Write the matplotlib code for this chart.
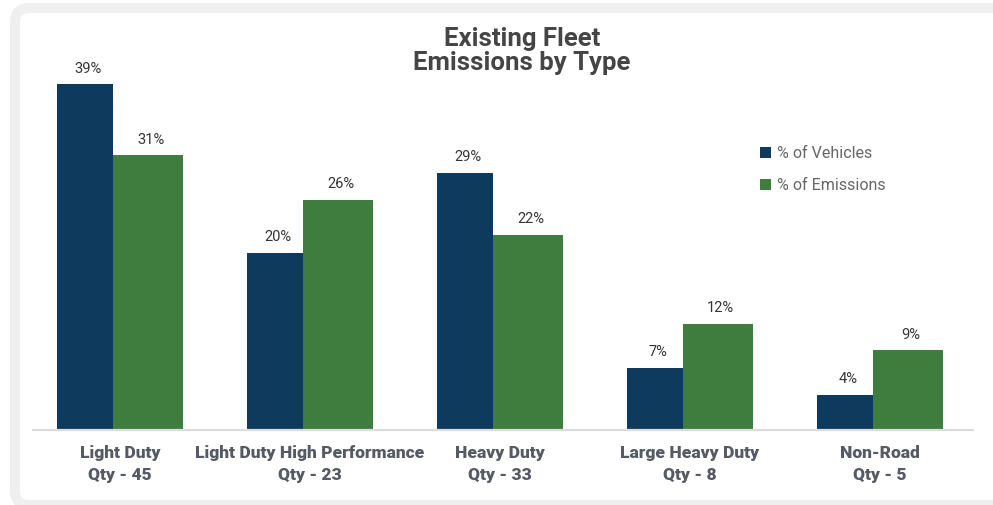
import numpy as np
import matplotlib.pyplot as plt
from matplotlib.patches import FancyBboxPatch, Rectangle
from matplotlib.transforms import IdentityTransform

# dados do gráfico
categorias = ["Light Duty", "Light Duty High Performance", "Heavy Duty",
              "Large Heavy Duty", "Non-Road"]
quantidades = [45, 23, 33, 8, 5]
pct_veiculos = [39, 20, 29, 7, 4]
pct_emissoes = [31, 26, 22, 12, 9]

AZUL = "#0e3a5d"
VERDE = "#3e7d3d"
CINZA_TXT = "#555a64"
FONTE_ESTREITA = ["Liberation Sans Narrow", "DejaVu Sans Condensed", "Roboto"]

fig = plt.figure(figsize=(9.93, 5.06), dpi=100)

# moldura cinza com cantos arredondados (atrás de tudo)
moldura = FancyBboxPatch((15, 0), 990, 497,
                         boxstyle="round,pad=0,rounding_size=14",
                         transform=IdentityTransform(),
                         facecolor="white", edgecolor="#efefef",
                         linewidth=7.2, zorder=-5)
fig.patches.append(moldura)

ax = fig.add_axes([33 / 993, 75 / 506, 940 / 993, 391 / 506])
ax.set_facecolor("none")

x = np.arange(len(categorias))
larg_azul = 56 / 190
larg_verde = 70 / 190

b1 = ax.bar(x - larg_azul, pct_veiculos, width=larg_azul, align="edge",
            color=AZUL, label="% of Vehicles", zorder=2)
b2 = ax.bar(x, pct_emissoes, width=larg_verde, align="edge",
            color=VERDE, label="% of Emissions", zorder=2)

for barras in (b1, b2):
    for b in barras:
        ax.annotate(f"{b.get_height():.0f}%",
                    (b.get_x() + b.get_width() / 2, b.get_height()),
                    xytext=(2, 7), textcoords="offset points",
                    ha="center", va="bottom", fontsize=10.5,
                    family=FONTE_ESTREITA, fontstretch="condensed",
                    color="#333333")

ax.set_xlim(-80 / 190, 860 / 190)
ax.set_ylim(0, 391 / 8.86)

for lado in ("left", "right", "top"):
    ax.spines[lado].set_visible(False)
ax.spines["bottom"].set_color("#dcdcdc")
ax.spines["bottom"].set_linewidth(1.6)
ax.set_yticks([])

rotulos = [f"{c}\nQty - {q}" for c, q in zip(categorias, quantidades)]
ax.set_xticks(x + (larg_verde - larg_azul) / 2)
ax.set_xticklabels(rotulos, fontsize=12.5, fontweight="heavy",
                   color=CINZA_TXT, family="Roboto", linespacing=1.45)
ax.tick_params(axis="x", length=0, pad=10)

# título
fig.text(522 / 993, 1 - 51 / 506, "Existing Fleet\nEmissions by Type",
         ha="center", va="center", fontsize=18.5, fontweight="bold",
         family="Roboto", color="#454545", linespacing=1.05)

# legenda manual
itens = [("% of Vehicles", AZUL, 153), ("% of Emissions", VERDE, 185)]
for texto, cor, y in itens:
    fig.patches.append(Rectangle((760, 506 - y - 5.5), 11, 11,
                                 transform=IdentityTransform(),
                                 facecolor=cor, edgecolor="none"))
    fig.text(777 / 993, 1 - y / 506, texto, ha="left", va="center",
             fontsize=11.5, family=FONTE_ESTREITA, fontstretch="condensed",
             color="#666666")

fig.savefig("out.png", dpi=100)
